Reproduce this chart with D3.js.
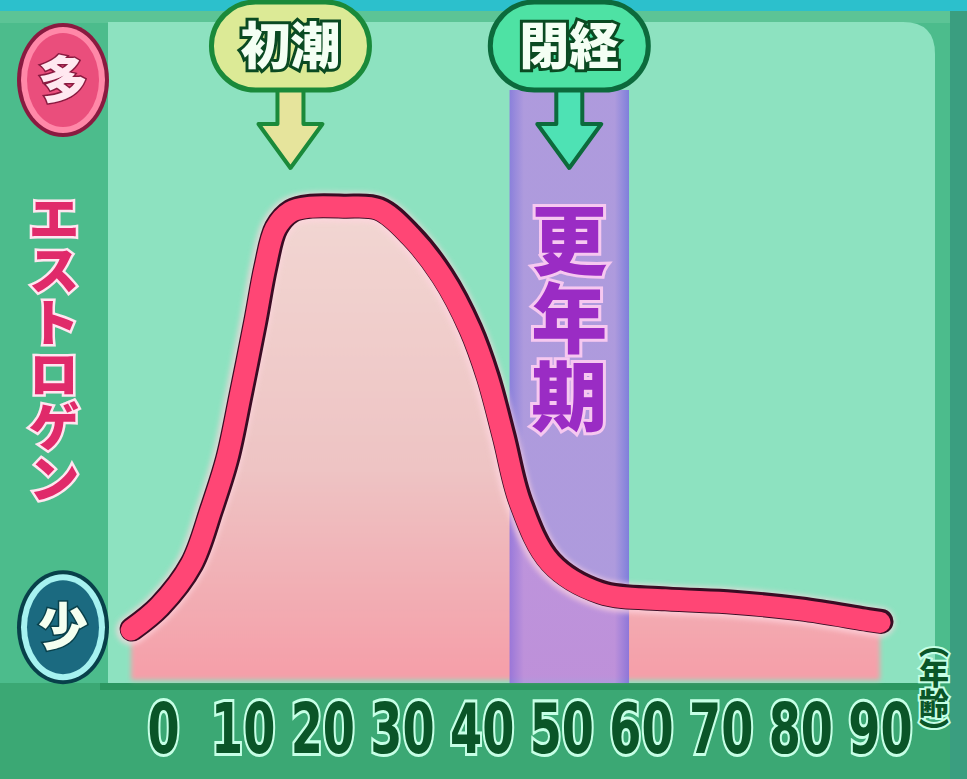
<!DOCTYPE html>
<html>
<head>
<meta charset="utf-8">
<script src="https://cdn.jsdelivr.net/npm/d3@7"></script>
<style>
  body { margin: 0; background: #4cbc8c; }
  svg { display: block; }
  .cjk { font-family: "Noto Sans CJK JP", "Noto Sans CJK SC", sans-serif; font-weight: 900; }
</style>
</head>
<body>
<svg id="chart" width="967" height="779"></svg>
<script>
// ages and estrogen level (relative, 0-100)
const ages = [-4, -0.5, 3.5, 6, 8, 9.7, 11.5, 12.8, 14.1, 16, 18.5, 22.6, 27, 31, 35, 38.5, 40.7, 42.7, 44.8, 48.6, 54.8, 63, 71.5, 80, 88, 90];
const estrogen = [10.4, 15.2, 24, 35.4, 46, 59.4, 74.4, 86, 94, 97.5, 98.5, 98.5, 98, 92.5, 84, 73, 63, 50.6, 36.9, 24.4, 18.1, 16.7, 16, 14.6, 12.5, 12];

const ageTicks = [0, 10, 20, 30, 40, 50, 60, 70, 80, 90];
const menopauseBand = [43.5, 58.5];
const markerLabels = ["初潮", "閉経"];
const markerAges = [16, 51];
const levelLabels = ["多", "少"];
const levelValues = [125, 11];
const yTitle = "エストロゲン";
const bandTitle = "更年期";
const xTitle = "（年齢）";

const svg = d3.select("#chart");
const W = +svg.attr("width"), H = +svg.attr("height");

const plot = { left: 108, right: 935, top: 22, bottom: 683 };

const x = d3.scaleLinear().domain([0, 90]).range([163, 880]);
const y = d3.scaleLinear().domain([0, 100]).range([plot.bottom - 3, 200]);

const data = ages.map((a, i) => ({ age: a, value: estrogen[i] }));

const defs = svg.append("defs");
const fillGrad = defs.append("linearGradient")
  .attr("id", "fillGrad").attr("x1", 0).attr("y1", 0).attr("x2", 0).attr("y2", 1);
fillGrad.append("stop").attr("offset", "0%").attr("stop-color", "#f2d6d2");
fillGrad.append("stop").attr("offset", "55%").attr("stop-color", "#eec4c4");
fillGrad.append("stop").attr("offset", "100%").attr("stop-color", "#f59ea8");

const bandGrad = defs.append("linearGradient")
  .attr("id", "bandGrad").attr("x1", 0).attr("y1", 0).attr("x2", 1).attr("y2", 0);
bandGrad.append("stop").attr("offset", "0%").attr("stop-color", "#8a6fe0");
bandGrad.append("stop").attr("offset", "12%").attr("stop-color", "#b48ee2");
bandGrad.append("stop").attr("offset", "88%").attr("stop-color", "#b48ee2");
bandGrad.append("stop").attr("offset", "100%").attr("stop-color", "#7c6ee0");

defs.append("filter").attr("id", "soft")
  .append("feGaussianBlur").attr("stdDeviation", 2.5);

// frame
svg.append("rect").attr("width", W).attr("height", H).attr("fill", "#4cbc8c");
svg.append("rect").attr("x", 0).attr("y", 0).attr("width", W).attr("height", 11).attr("fill", "#2cc0cc");
svg.append("rect").attr("x", 0).attr("y", 11).attr("width", W).attr("height", 12).attr("fill", "#5cc496");
svg.append("rect").attr("x", 950).attr("y", 11).attr("width", 17).attr("height", H).attr("fill", "#3a9e80");

// plot panel with rounded top-right corner
svg.append("path")
  .attr("d", `M${plot.left},${plot.top} H${plot.right - 32} Q${plot.right},${plot.top} ${plot.right},${plot.top + 32} V${plot.bottom} H${plot.left} Z`)
  .attr("fill", "#8de2c0");

// bottom axis band
svg.append("rect").attr("x", 0).attr("y", plot.bottom).attr("width", 950).attr("height", H - plot.bottom)
  .attr("fill", "#3ba874");
svg.append("rect").attr("x", 100).attr("y", plot.bottom).attr("width", 840).attr("height", 7)
  .attr("fill", "#2b9660");

const g = svg.append("g");

// area under the curve
const area = d3.area()
  .x(d => x(d.age))
  .y0(y(0))
  .y1(d => y(d.value))
  .curve(d3.curveCatmullRom.alpha(0.5));

g.append("path")
  .datum(data)
  .attr("d", area)
  .attr("fill", "url(#fillGrad)")
  .attr("filter", "url(#soft)");

// menopause band
g.append("rect")
  .attr("x", x(menopauseBand[0]))
  .attr("y", 90)
  .attr("width", x(menopauseBand[1]) - x(menopauseBand[0]))
  .attr("height", plot.bottom - 90)
  .attr("fill", "url(#bandGrad)")
  .attr("opacity", 0.85);

// curve
const line = d3.line()
  .x(d => x(d.age))
  .y(d => y(d.value))
  .curve(d3.curveCatmullRom.alpha(0.5));

g.append("path").datum(data).attr("d", line)
  .attr("fill", "none").attr("stroke", "#ffd6e0").attr("stroke-width", 30)
  .attr("stroke-linecap", "round").attr("filter", "url(#soft)").attr("opacity", 0.7);
g.append("path").datum(data).attr("d", line)
  .attr("fill", "none").attr("stroke", "#3a0c24").attr("stroke-width", 25)
  .attr("stroke-linecap", "round").attr("transform", "translate(1,-1)");
g.append("path").datum(data).attr("d", line)
  .attr("fill", "none").attr("stroke", "#ff4675").attr("stroke-width", 21)
  .attr("stroke-linecap", "round");

// band title
svg.append("text")
  .attr("class", "cjk")
  .attr("x", d3.mean(menopauseBand.map(x)))
  .attr("y", 202)
  .attr("writing-mode", "vertical-rl")
  .attr("font-size", 76)
  .attr("fill", "#9a2cc4")
  .attr("stroke", "#f6c8f0")
  .attr("stroke-width", 6)
  .attr("paint-order", "stroke")
  .attr("letter-spacing", 2)
  .text(bandTitle);

// x axis
const xAxis = svg.append("g")
  .attr("transform", `translate(0, ${plot.bottom})`)
  .call(d3.axisBottom(x).tickValues(ageTicks).tickSize(0));
xAxis.select(".domain").remove();
xAxis.selectAll("text")
  .attr("y", 70)
  .attr("dy", null)
  .attr("transform", "scale(0.66, 1)")
  .attr("font-family", "'DejaVu Sans', sans-serif")
  .attr("font-weight", "bold")
  .attr("font-size", 70)
  .attr("fill", "#0a5528")
  .attr("stroke", "#c6ffe6")
  .attr("stroke-width", 6)
  .attr("paint-order", "stroke");

svg.append("text")
  .attr("class", "cjk")
  .attr("x", 934)
  .attr("y", 628)
  .attr("writing-mode", "vertical-rl")
  .attr("font-size", 30)
  .attr("fill", "#0a5528")
  .attr("stroke", "#c6ffe6")
  .attr("stroke-width", 4)
  .attr("paint-order", "stroke")
  .text(xTitle);

// y title
svg.append("text")
  .attr("class", "cjk")
  .attr("x", 54)
  .attr("y", 192)
  .attr("writing-mode", "vertical-rl")
  .attr("font-size", 52)
  .attr("fill", "#e02a6a")
  .attr("stroke", "#ffe6f0")
  .attr("stroke-width", 5)
  .attr("paint-order", "stroke")
  .text(yTitle);

// level badges 多 / 少
const badgeStyles = [
  { fill: "#ea4e7c", ring: "#ff88a8", edge: "#8a1a40", text: "#ffe8f0" },
  { fill: "#1b6a80", ring: "#a6f2f0", edge: "#08404a", text: "#f4fff0" }
];
levelLabels.forEach((lab, i) => {
  const cy = y(levelValues[i]);
  const s = badgeStyles[i];
  const b = svg.append("g").attr("transform", `translate(63, ${cy})`);
  b.append("ellipse").attr("rx", 46).attr("ry", 57).attr("fill", s.edge);
  b.append("ellipse").attr("rx", 42).attr("ry", 53).attr("fill", s.ring);
  b.append("ellipse").attr("rx", 36).attr("ry", 47).attr("fill", s.fill);
  b.append("text")
    .attr("class", "cjk")
    .attr("text-anchor", "middle")
    .attr("dy", "0.36em")
    .attr("font-size", 50)
    .attr("fill", s.text)
    .attr("stroke", s.edge)
    .attr("stroke-width", 3)
    .attr("paint-order", "stroke")
    .text(lab);
});

// marker callouts 初潮 / 閉経
const markerStyles = [
  { fill: "#dcea96", arrow: "#e6e49c", edge: "#1a8a3a" },
  { fill: "#4ee2a4", arrow: "#4ee2b4", edge: "#0c6a3c" }
];
markerLabels.forEach((lab, i) => {
  const cx = x(markerAges[i]);
  const s = markerStyles[i];
  const m = svg.append("g").attr("transform", `translate(${cx}, 0)`);
  m.append("path")
    .attr("d", "M-13,86 V124 H-32 L0,168 L32,124 H13 V86 Z")
    .attr("fill", s.arrow)
    .attr("stroke", s.edge)
    .attr("stroke-width", 4)
    .attr("stroke-linejoin", "round");
  m.append("rect")
    .attr("x", -79).attr("y", 2).attr("width", 158).attr("height", 88)
    .attr("rx", 44)
    .attr("fill", s.fill)
    .attr("stroke", s.edge)
    .attr("stroke-width", 5);
  m.append("text")
    .attr("class", "cjk")
    .attr("text-anchor", "middle")
    .attr("y", 46)
    .attr("dy", "0.36em")
    .attr("font-size", 50)
    .attr("fill", "#f4fff4")
    .attr("stroke", "#0a4a22")
    .attr("stroke-width", 6)
    .attr("paint-order", "stroke")
    .text(lab);
});
</script>
</body>
</html>
